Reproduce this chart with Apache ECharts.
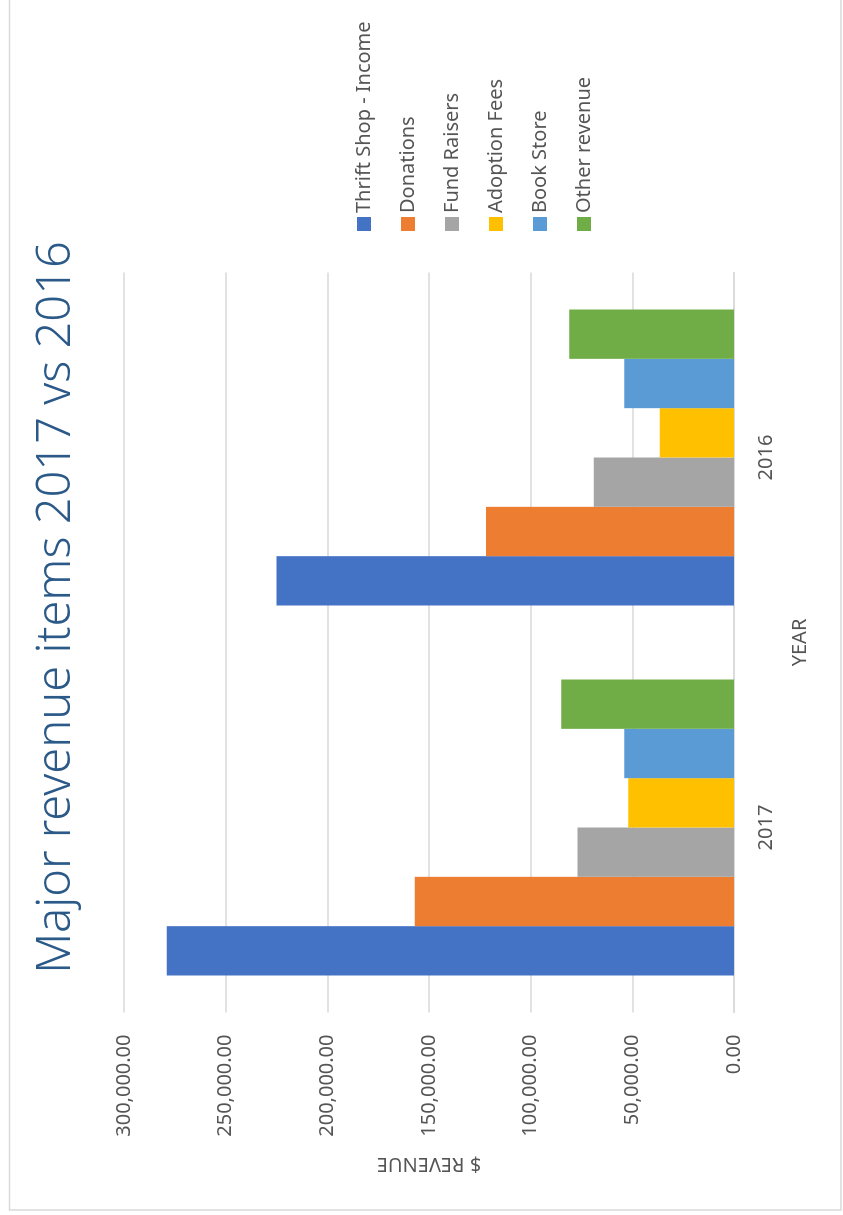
<!DOCTYPE html>
<html><head><meta charset="utf-8">
<script src="https://cdn.jsdelivr.net/npm/echarts@6/dist/echarts.min.js"></script>
<style>
html,body{margin:0;padding:0;width:843px;height:1215px;overflow:hidden;background:#fff;}
#chart{position:absolute;left:0;top:0;width:1215px;height:843px;transform-origin:0 0;transform:translate(0,1215px) rotate(-90deg);}
</style></head><body><div id="chart"></div>
<script>
const categories = ['2017', '2016'];
const seriesNames = ['Thrift Shop - Income', 'Donations', 'Fund Raisers', 'Adoption Fees', 'Book Store', 'Other revenue'];
const thriftShop = [279000, 225000];
const donations = [157000, 122000];
const fundRaisers = [77000, 69000];
const adoptionFees = [52000, 36500];
const bookStore = [54000, 54000];
const otherRevenue = [85000, 81000];
const valueTicks = [0, 50000, 100000, 150000, 200000, 250000, 300000];
const colors = ['#4472C4', '#ED7D31', '#A5A5A5', '#FFC000', '#5B9BD5', '#70AD47'];
const seriesData = [thriftShop, donations, fundRaisers, adoptionFees, bookStore, otherRevenue];

const FONT = '"Noto Sans", sans-serif';
const chart = echarts.init(document.getElementById('chart'), null, {renderer: 'canvas'});
chart.setOption({
  animation: false,
  backgroundColor: '#fff',
  color: colors,
  title: {
    text: 'Major revenue items 2017 vs 2016',
    left: 'center',
    top: 28,
    textStyle: {fontFamily: FONT, fontSize: 47, fontWeight: 300, color: '#2C5A88'}
  },
  legend: {
    orient: 'vertical',
    left: 979,
    top: 349,
    itemWidth: 14,
    itemHeight: 14,
    itemGap: 24,
    icon: 'rect',
    data: seriesNames,
    textStyle: {fontFamily: FONT, fontSize: 20, color: '#555555', padding: [0, 0, 0, -1]}
  },
  grid: {left: 202.5, right: 272.5, top: 124, bottom: 109, containLabel: false},
  xAxis: {
    type: 'category',
    data: categories,
    name: 'YEAR',
    nameLocation: 'middle',
    nameGap: 56,
    nameTextStyle: {fontFamily: FONT, fontSize: 20, color: '#555555'},
    axisTick: {show: false},
    axisLine: {lineStyle: {color: '#D9D9D9', width: 1.5}},
    axisLabel: {margin: 22, fontFamily: FONT, fontSize: 20, color: '#555555'}
  },
  yAxis: {
    type: 'value',
    min: valueTicks[0],
    max: valueTicks[valueTicks.length - 1],
    interval: valueTicks[1] - valueTicks[0],
    name: '$ REVENUE',
    nameLocation: 'middle',
    nameRotate: 90,
    nameGap: 141,
    nameTextStyle: {fontFamily: FONT, fontSize: 20, color: '#555555'},
    axisLine: {show: false},
    axisTick: {show: false},
    splitLine: {lineStyle: {color: '#D9D9D9', width: 1.5}},
    axisLabel: {
      margin: 22, fontFamily: FONT, fontSize: 20, color: '#555555',
      formatter: v => v.toLocaleString('en-US', {minimumFractionDigits: 2, maximumFractionDigits: 2})
    }
  },
  series: seriesNames.map((n, i) => ({
    name: n,
    type: 'bar',
    data: seriesData[i],
    barGap: '0%',
    barCategoryGap: '20%'
  })),
  graphic: [{
    type: 'rect',
    silent: true,
    shape: {x: 5, y: 9.5, width: 1300, height: 831.5},
    style: {fill: 'none', stroke: '#D9D9D9', lineWidth: 1.5}
  }]
});
</script></body></html>
